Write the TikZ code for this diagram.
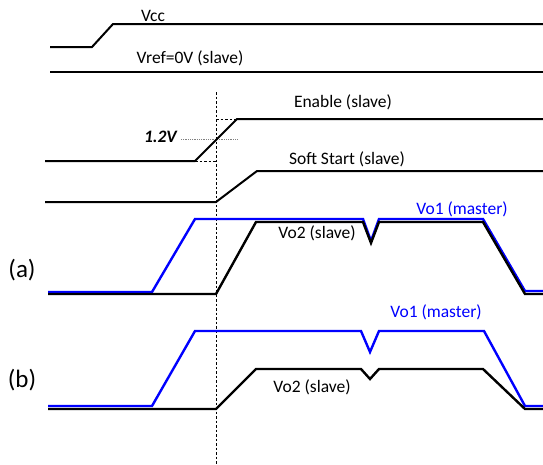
\documentclass[tikz,border=0pt]{standalone}
\usepackage{fontspec}
\setmainfont{Carlito}
\begin{document}
\begin{tikzpicture}[x=1pt,y=-1pt,
  sig/.style={line width=2pt,black},
  bsig/.style={line width=2.4pt,color=vblue},
  guide/.style={line width=0.9pt,dash pattern=on 2.5pt off 2pt},
  lbl/.style={font=\fontsize{17.5}{20}\selectfont,inner sep=0pt},
  big/.style={font=\fontsize{25}{28}\selectfont,inner sep=0pt}]
\definecolor{vblue}{RGB}{0,0,255}
\useasboundingbox (0,0) rectangle (543,464);
% vertical guide
\coordinate (vt) at (216,92);
\coordinate (vb) at (216,464);
\draw[guide] (vt) -- (vb);
% Vcc
\draw[sig] (50,47) -- (92,47) -- (113,24) -- (543,24);
\node[lbl] (vcc) at (153,16) {Vcc};
% Vref
\draw[sig] (50,72) -- (543,72);
\node[lbl] (vref) at (190,58) {Vref=0V (slave)};
% Enable
\draw[guide] (195,161) -- (216,161);
\draw[guide] (216,119) -- (237,119);
\draw[gray,line width=1pt,dash pattern=on 1pt off 0.8pt] (181,139) -- (237,139);
\draw[sig] (45,161) -- (195,161) -- (237,119) -- (543,119);
\node[lbl] (en) at (343,102) {Enable (slave)};
\node[lbl,font=\fontsize{17.5}{20}\selectfont\bfseries\itshape,anchor=east] (th) at (177,137) {1.2V};
% Soft start
\draw[sig] (45,202) -- (216,202) -- (257,171) -- (543,171);
\node[lbl] (ss) at (347,159) {Soft Start (slave)};
% (a)
\draw[bsig] (48,292) -- (152,292) -- (195,219) -- (363,219) -- (371,241) -- (379,219) -- (483,219) -- (525,291) -- (543,291);
\draw[sig,line width=2.4pt] (48,294) -- (216,294) -- (256,222) -- (363,222) -- (371,243) -- (379,222) -- (483,222) -- (525,294) -- (543,294);
\node[lbl,text=vblue] (vo1a) at (462,209) {Vo1 (master)};
\node[lbl] (vo2a) at (317,233) {Vo2 (slave)};
\node[big] (a) at (22,270) {(a)};
% (b)
\draw[bsig] (48,406) -- (152,406) -- (195,331) -- (361,331) -- (370,352) -- (379,331) -- (484,331) -- (525,406) -- (543,406);
\draw[sig,line width=2.4pt] (48,409) -- (216,409) -- (256,369) -- (361,369) -- (370,379) -- (379,369) -- (483,369) -- (525,409) -- (543,409);
\node[lbl,text=vblue] (vo1b) at (436,312) {Vo1 (master)};
\node[lbl] (vo2b) at (312,387) {Vo2 (slave)};
\node[big] (b) at (22,380) {(b)};
\end{tikzpicture}
\end{document}
